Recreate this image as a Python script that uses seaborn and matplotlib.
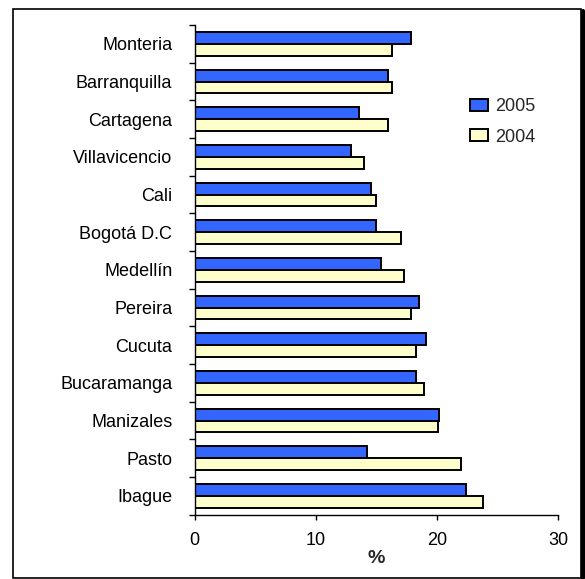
import matplotlib
matplotlib.use("Agg")
import matplotlib.pyplot as plt
from matplotlib.patches import Rectangle
from matplotlib.lines import Line2D
import seaborn as sb
import pandas as pd
import numpy as np

# data (%)
cities = ['Monteria', 'Barranquilla', 'Cartagena', 'Villavicencio', 'Cali',
          'Bogotá D.C', 'Medellín', 'Pereira', 'Cucuta', 'Bucaramanga',
          'Manizales', 'Pasto', 'Ibague']
values_2005 = [17.9, 16.0, 13.6, 12.9, 14.6, 15.0, 15.4, 18.5, 19.1, 18.3, 20.2, 14.2, 22.4]
values_2004 = [16.3, 16.3, 16.0, 14.0, 15.0, 17.0, 17.3, 17.9, 18.3, 18.9, 20.1, 22.0, 23.8]
years = ['2005', '2004']
colors = {'2005': '#3366FF', '2004': '#FFFFCC'}

rows = [(c, '2005', v) for c, v in zip(cities, values_2005)]
rows += [(c, '2004', v) for c, v in zip(cities, values_2004)]
data = pd.DataFrame(rows, columns=['city', 'year', 'pct'])

sb.set_theme(style='white')
plt.rcParams['font.family'] = ['Liberation Sans', 'DejaVu Sans']

fig = plt.figure(figsize=(5.85, 5.79), dpi=100)
ax = fig.add_axes([0.3325, 0.111, 0.6215, 0.8458])

sb.barplot(data=data, y='city', x='pct', hue='year', order=cities, hue_order=years,
           palette=colors, orient='h', width=0.63, edgecolor='black', linewidth=1.4,
           saturation=1, ax=ax)

handles, labels = ax.get_legend_handles_labels()
ax.get_legend().remove()
fig.legend(handles, labels, loc='center left', bbox_to_anchor=(470 / 585, 1 - 122 / 579),
           frameon=False, fontsize=13, handlelength=1.0, handleheight=0.65,
           handletextpad=0.4, labelspacing=0.75, borderpad=0, borderaxespad=0)

ax.set_xlim(0, 30)
ax.set_ylim(len(cities) - 0.5, -0.5)
ax.set_xticks([0, 10, 20, 30])
ax.set_xlabel('%', fontsize=14, fontweight='bold', labelpad=1)
ax.set_ylabel('')

for side in ['top', 'right']:
    ax.spines[side].set_visible(False)
for side in ['left', 'bottom']:
    ax.spines[side].set_color('black')
    ax.spines[side].set_linewidth(1.0)

ax.tick_params(axis='x', length=3.5, width=1, color='black', labelsize=13, pad=9,
               labelcolor='black', direction='out', bottom=True)
ax.tick_params(axis='y', which='major', length=0, labelsize=13, pad=16, labelcolor='black')
ax.set_yticks(np.arange(-0.5, len(cities), 1.0), minor=True)
ax.tick_params(axis='y', which='minor', length=4.5, width=1, color='black', left=True)

# frame around the whole chart
fig.patches.append(Rectangle((12.5 / 585, 1 - 578 / 579), (581 - 12.5) / 585, (578 - 8.5) / 579,
                             transform=fig.transFigure, fill=False, edgecolor='black',
                             linewidth=1.2))
fig.lines.append(Line2D([583 / 585, 583 / 585], [1 - 578 / 579, 1 - 11 / 579],
                        transform=fig.transFigure, color='black', linewidth=3))

fig.savefig('out.png', dpi=100)
